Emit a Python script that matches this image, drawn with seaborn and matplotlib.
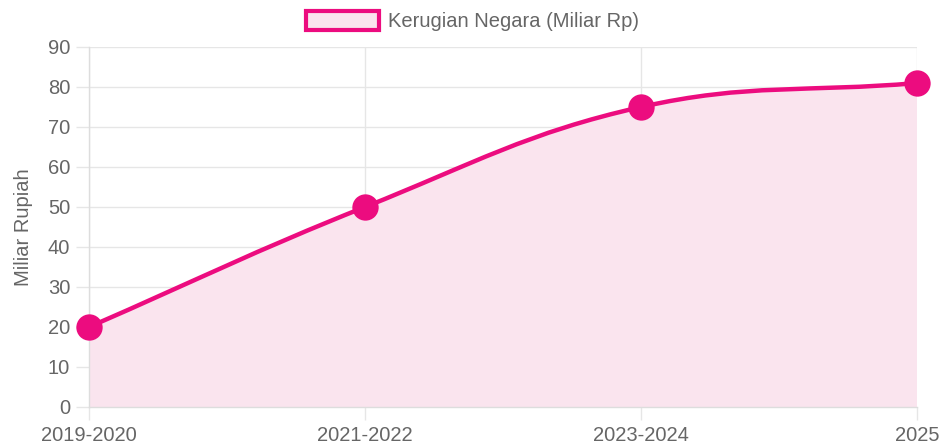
import numpy as np
import matplotlib
matplotlib.use("Agg")
import matplotlib.pyplot as plt
from matplotlib.path import Path
from matplotlib.patches import PathPatch, Rectangle
import seaborn as sns

periods = ["2019-2020", "2021-2022", "2023-2024", "2025"]
kerugian = [20, 50, 75, 81]
series_name = "Kerugian Negara (Miliar Rp)"

line_color = "#ec0c7f"
fill_color = "#fae4ee"
text_color = "#666666"
grid_color = "#e6e6e6"

sns.set_theme(style="white")
plt.rcParams["font.family"] = ["Liberation Sans", "DejaVu Sans"]

fig = plt.figure(figsize=(9.45, 4.46), dpi=100)
ax = fig.add_axes([89 / 945, 39 / 446, 828 / 945, 360 / 446])
ax.set_xlim(0, len(periods) - 1)
ax.set_ylim(0, 90)

# smooth line like a tension 0.4 spline, computed in pixel-like space
xs = np.arange(len(periods), dtype=float)
ys = np.array(kerugian, dtype=float)
sx, sy = 276.0, 4.0
px, py = xs * sx, ys * sy
tension = 0.4
n = len(px)
cp_prev, cp_next = [], []
for i in range(n):
    p0 = (px[max(i - 1, 0)], py[max(i - 1, 0)])
    p1 = (px[i], py[i])
    p2 = (px[min(i + 1, n - 1)], py[min(i + 1, n - 1)])
    d01 = np.hypot(p1[0] - p0[0], p1[1] - p0[1])
    d12 = np.hypot(p2[0] - p1[0], p2[1] - p1[1])
    tot = d01 + d12
    s01 = d01 / tot if tot else 0
    s12 = d12 / tot if tot else 0
    fa, fb = tension * s01, tension * s12
    cp_prev.append((p1[0] - fa * (p2[0] - p0[0]), p1[1] - fa * (p2[1] - p0[1])))
    cp_next.append((p1[0] + fb * (p2[0] - p0[0]), p1[1] + fb * (p2[1] - p0[1])))

verts = [(xs[0], ys[0])]
codes = [Path.MOVETO]
for i in range(n - 1):
    verts += [(cp_next[i][0] / sx, cp_next[i][1] / sy),
              (cp_prev[i + 1][0] / sx, cp_prev[i + 1][1] / sy),
              (xs[i + 1], ys[i + 1])]
    codes += [Path.CURVE4] * 3

fill_verts = verts + [(xs[-1], 0), (xs[0], 0), (xs[0], ys[0])]
fill_codes = codes + [Path.LINETO, Path.LINETO, Path.CLOSEPOLY]
ax.add_patch(PathPatch(Path(fill_verts, fill_codes), facecolor=fill_color,
                       edgecolor="none", zorder=1))
ax.add_patch(PathPatch(Path(verts, codes), facecolor="none", edgecolor=line_color,
                       lw=3.2, capstyle="round", joinstyle="round", zorder=3))

sns.scatterplot(x=xs, y=ys, ax=ax, s=360, color=line_color, edgecolor=line_color,
                linewidth=0, zorder=4, clip_on=False, legend=False)

ax.set_xticks(xs)
ax.set_xticklabels(periods)
ax.set_yticks(np.arange(0, 91, 10))
ax.grid(True, color=grid_color, lw=1)
ax.set_axisbelow(True)
for side in ["top", "right"]:
    ax.spines[side].set_visible(False)
for side in ["left", "bottom"]:
    ax.spines[side].set_color("#dddddd")
    ax.spines[side].set_linewidth(1)
ax.tick_params(axis="both", colors=grid_color, labelcolor=text_color, labelsize=14.5,
               length=9.5, width=1, left=True, bottom=True, pad=4)
ax.tick_params(axis="x", pad=4.5)
ax.set_ylabel("Miliar Rupiah", color=text_color, fontsize=14.5)
ax.yaxis.set_label_coords(-56 / 828, 0.5)
ax.set_xlabel("")

handle = Rectangle((0, 0), 1, 1, facecolor=fill_color, edgecolor=line_color, lw=3)
leg = fig.legend([handle], [series_name], loc="center", bbox_to_anchor=(0.5, 1 - 21 / 446),
                 frameon=False, fontsize=14.5, handlelength=3.6, handleheight=1.1,
                 handletextpad=0.45, labelcolor=text_color)

fig.savefig("out.png", dpi=100)
